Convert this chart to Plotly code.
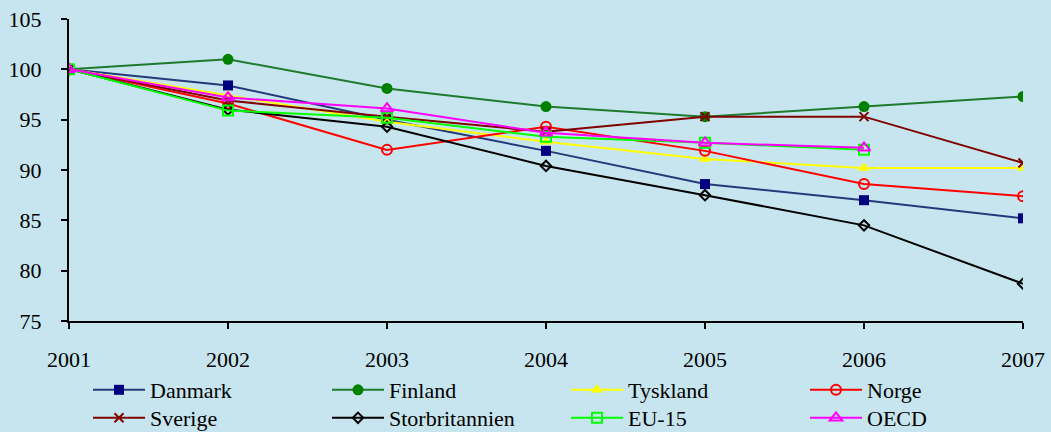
import plotly.graph_objects as go

years = [2001, 2002, 2003, 2004, 2005, 2006, 2007]

danmark = [100, 98.4, 95.0, 91.9, 88.6, 87.0, 85.2]
finland = [100, 101.0, 98.1, 96.3, 95.3, 96.3, 97.3]
tyskland = [100, 97.4, 94.8, 92.8, 91.1, 90.2, 90.2]
norge = [100, 96.6, 92.0, 94.3, 91.9, 88.6, 87.4]
sverige = [100, 96.9, 95.3, 93.8, 95.3, 95.3, 90.7]
storbritannien = [100, 96.0, 94.3, 90.4, 87.5, 84.5, 78.7]
eu15 = [100, 95.9, 95.2, 93.3, 92.7, 92.0, None]
oecd = [100, 97.2, 96.1, 93.7, 92.7, 92.2, None]

_FONT = "Liberation Serif"
_BG = "#C7E5EE"

series = [
    ("Danmark", danmark, "#23397A", dict(symbol="square", size=10, color="#000080")),
    ("Finland", finland, "#1E7B2E", dict(symbol="circle", size=11, color="#008000")),
    ("Tyskland", tyskland, "#FFFF00", dict(symbol="triangle-up", size=11, color="#FFFF00")),
    ("Norge", norge, "#FF0000", dict(symbol="circle-open", size=10, color="#FF0000", line=dict(width=2))),
    ("Sverige", sverige, "#800000", dict(symbol="x-thin-open", size=9, color="#800000", line=dict(width=2, color="#800000"))),
    ("Storbritannien", storbritannien, "#000000", dict(symbol="diamond-open", size=8, color="#000000", line=dict(width=2))),
    ("EU-15", eu15, "#00FF00", dict(symbol="square-open", size=10, color="#00FF00", line=dict(width=2))),
    ("OECD", oecd, "#FF00FF", dict(symbol="triangle-up-open", size=11, color="#FF00FF", line=dict(width=2))),
]

fig = go.Figure()
for i, (name, vals, col, mk) in enumerate(series):
    fig.add_trace(go.Scatter(
        x=years, y=vals, name=name, mode="lines+markers",
        line=dict(color=col, width=2), marker=mk,
        legend="legend" if i < 4 else "legend2",
    ))

_legend = dict(
    orientation="h", xref="paper", yref="container",
    x=4 / 954, xanchor="left", yanchor="middle",
    entrywidth=157, entrywidthmode="pixels",
    itemwidth=52, indentation=15,
    font=dict(family=_FONT, size=22), bgcolor="rgba(0,0,0,0)",
    tracegroupgap=0,
)

fig.update_layout(
    width=1051, height=432,
    paper_bgcolor=_BG, plot_bgcolor=_BG,
    font=dict(family=_FONT, size=22, color="#000000"),
    margin=dict(l=69, r=28, t=19, b=111),
    showlegend=True,
    legend=dict(_legend, y=1 - 390 / 432),
    legend2=dict(_legend, y=1 - 418 / 432),
    xaxis=dict(
        range=[2001, 2007], tickmode="array", tickvals=years, automargin=False,
        showgrid=False, zeroline=False, showline=True, linecolor="#000", linewidth=2,
        ticks="outside", ticklen=6, tickwidth=2, tickcolor="#000",
        ticklabelstandoff=12,
    ),
    yaxis=dict(
        range=[75, 105], tickmode="array", tickvals=[75, 80, 85, 90, 95, 100, 105], automargin=False,
        showgrid=False, zeroline=False, showline=True, linecolor="#000", linewidth=2,
        ticks="outside", ticklen=6, tickwidth=2, tickcolor="#000",
        ticklabelstandoff=15,
    ),
)

fig.write_html("out.html", config={"displayModeBar": False},
               post_script="document.body.style.margin='0';")
